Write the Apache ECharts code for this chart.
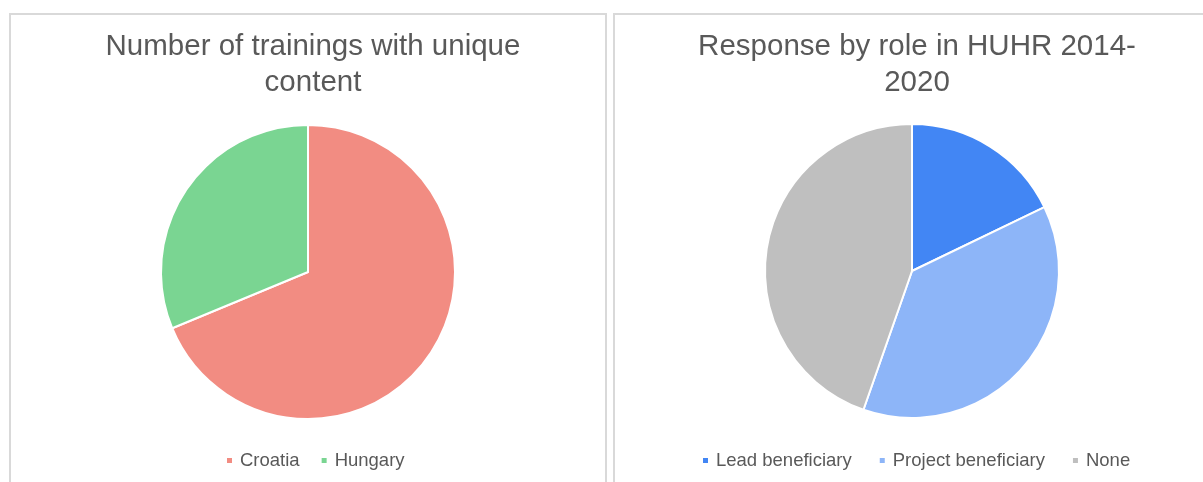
<!DOCTYPE html>
<html>
<head>
<meta charset="utf-8">
<title>Pie charts</title>
<script src="https://cdn.jsdelivr.net/npm/echarts@6/dist/echarts.min.js"></script>
<style>
  html, body { margin: 0; padding: 0; background: #fff; }
  #chart { width: 1203px; height: 482px; }
</style>
</head>
<body>
<div id="chart"></div>
<script>
// left chart
const trainingCountries = ['Croatia', 'Hungary']
const trainingCounts = [11, 5]
const trainingColors = ['#F28C82', '#7AD592']

// right chart
const roles = ['Lead beneficiary', 'Project beneficiary', 'None']
const roleCounts = [10, 21, 25]
const roleColors = ['#4286F4', '#8DB5F8', '#BFBFBF']

const chart = echarts.init(document.getElementById('chart'))

const textColor = '#595959'
const fontFamily = '"Liberation Sans", Arial, sans-serif'

const toData = (names, values) => names.map((n, i) => ({ name: n, value: values[i] }))

const pieBase = {
  type: 'pie',
  radius: 147,
  startAngle: 90,
  clockwise: true,
  label: { show: false },
  labelLine: { show: false },
  emphasis: { disabled: true },
  itemStyle: { borderColor: '#fff', borderWidth: 2 }
}

const titleStyle = {
  color: textColor,
  fontSize: 29.5,
  fontWeight: 'normal',
  fontFamily: fontFamily,
  lineHeight: 36
}

const legendBase = {
  icon: 'rect',
  itemWidth: 7,
  itemHeight: 7,
  itemGap: 20,
  top: 451,
  padding: 0,
  textStyle: { color: textColor, fontSize: 18.5, fontFamily: fontFamily, padding: [0, 0, 0, 2] }
}

const option = {
  animation: false,
  graphic: [
    // panel borders
    {
      type: 'rect',
      shape: { x: 10, y: 14, width: 596, height: 500 },
      style: { fill: 'none', stroke: '#D9D9D9', lineWidth: 2 }
    },
    {
      type: 'rect',
      shape: { x: 614, y: 14, width: 596, height: 500 },
      style: { fill: 'none', stroke: '#D9D9D9', lineWidth: 2 }
    }
  ],
  title: [
    {
      text: 'Number of trainings with unique\ncontent',
      left: 308,
      top: 24,
      textAlign: 'center',
      textStyle: titleStyle
    },
    {
      text: 'Response by role in HUHR 2014-\n2020',
      left: 912,
      top: 24,
      textAlign: 'center',
      textStyle: titleStyle
    }
  ],
  legend: [
    Object.assign({}, legendBase, {
      left: 225,
      data: trainingCountries
    }),
    Object.assign({}, legendBase, {
      left: 701,
      itemGap: 26,
      data: roles
    })
  ],
  series: [
    Object.assign({}, pieBase, {
      name: 'Trainings',
      center: [308, 272],
      color: trainingColors,
      data: toData(trainingCountries, trainingCounts)
    }),
    Object.assign({}, pieBase, {
      name: 'Role',
      center: [912, 271],
      color: roleColors,
      data: toData(roles, roleCounts)
    })
  ]
}

chart.setOption(option)
</script>
</body>
</html>
